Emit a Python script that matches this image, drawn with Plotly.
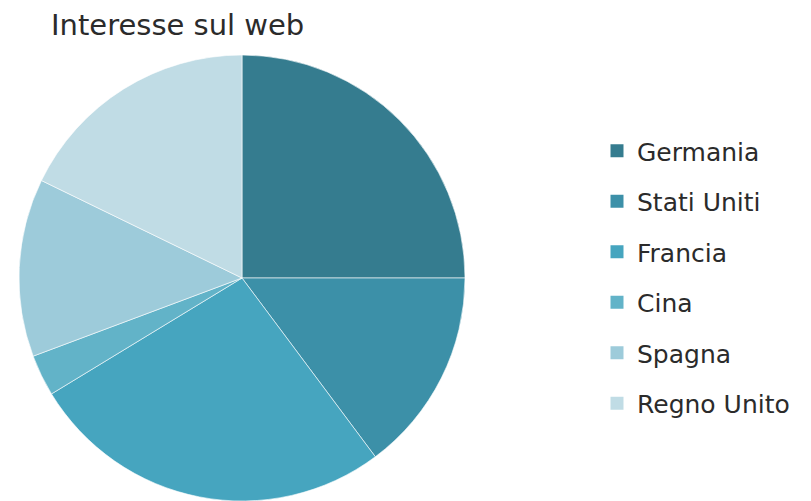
import plotly.graph_objects as go

labels = ["Germania", "Stati Uniti", "Francia", "Cina", "Spagna", "Regno Unito"]
values = [25.0, 14.8, 26.5, 3.0, 12.9, 17.8]
colors = ["#357C8F", "#3C90A8", "#46A5BF", "#62B3C8", "#9DCBDA", "#C0DCE5"]
title_text = "Interesse sul web"

W, H = 811, 501
OFF = 8  # page body margin


def px(x):
    return (x - OFF) / W


def py(y):
    return 1 - (y - OFF) / H


fig = go.Figure()
fig.add_trace(go.Pie(
    labels=labels, values=values, sort=False, direction="clockwise", rotation=0,
    marker=dict(colors=colors, line=dict(color="white", width=0.6)),
    textinfo="none", hoverinfo="label+percent", showlegend=False,
    domain=dict(x=[px(19), px(465)], y=[py(501), py(55)]),
))
for lab, col in zip(labels, colors):
    fig.add_trace(go.Scatter(
        x=[None], y=[None], mode="markers", name=lab, legendgroup=lab,
        marker=dict(symbol="square", size=13, color=col),
    ))

fig.update_layout(
    width=W, height=H,
    margin=dict(l=0, r=0, t=0, b=0),
    paper_bgcolor="white", plot_bgcolor="white",
    font=dict(family="DejaVu Sans, Verdana, sans-serif", color="#2b2b2b"),
    title=dict(text=title_text, x=px(51), xanchor="left", y=py(25), yanchor="middle",
               font=dict(size=29, color="#2b2b2b")),
    xaxis=dict(visible=False), yaxis=dict(visible=False),
    legend=dict(x=px(597), xanchor="left", y=py(277), yanchor="middle",
                font=dict(size=25, color="#2b2b2b"), tracegroupgap=15,
                itemclick=False, itemdoubleclick=False),
)
fig.write_html("out.html")
